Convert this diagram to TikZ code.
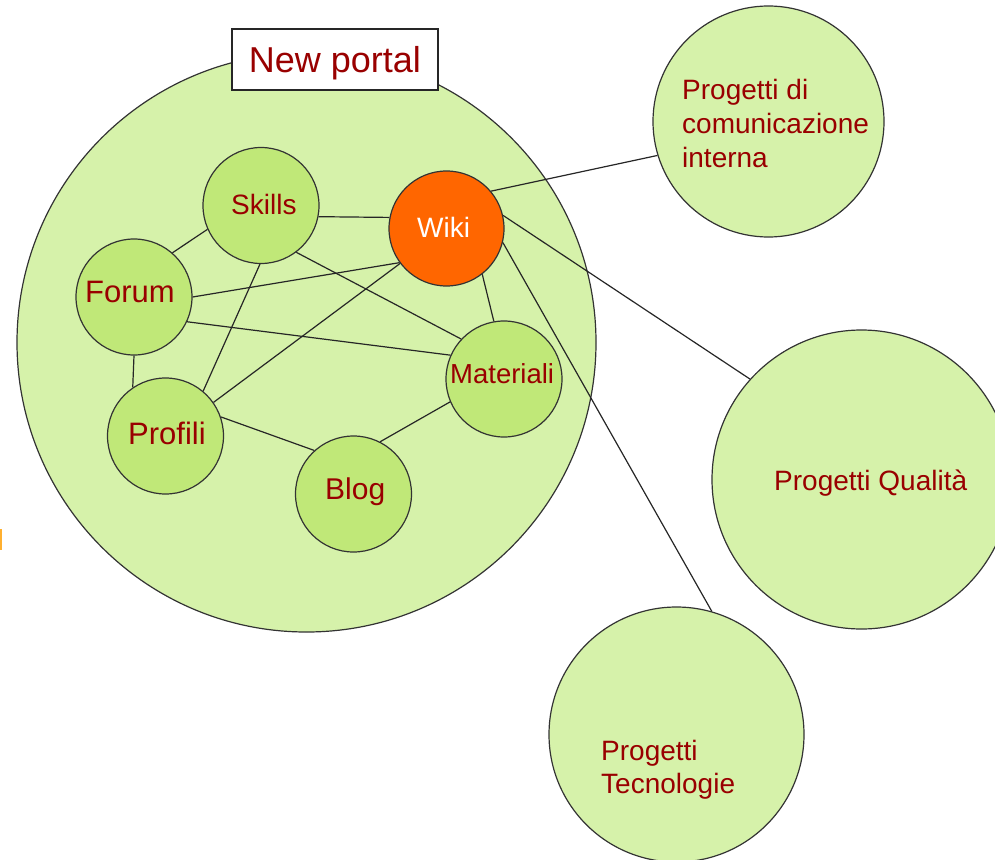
\documentclass[tikz,border=0pt]{standalone}
\usepackage{fontspec}
\setmainfont{Liberation Sans}
\definecolor{bigfill}{HTML}{D6F2AA}
\definecolor{smallfill}{HTML}{C0E878}
\definecolor{wikifill}{HTML}{FF6600}
\definecolor{txt}{HTML}{990000}
\definecolor{edge}{HTML}{333333}
\definecolor{frag}{HTML}{FFB030}
\begin{document}
\begin{tikzpicture}[x=1pt,y=-1pt,
  ring/.style={circle,draw=edge,line width=1.2pt,inner sep=0pt},
  big/.style={ring,fill=bigfill},
  small/.style={ring,fill=smallfill,minimum size=116pt},
  lbl/.style={anchor=base west,inner sep=0pt,text=txt},
  link/.style={draw=black!85,line width=1.2pt}]
\useasboundingbox (0,0) rectangle (995,859);
\clip (0,0) rectangle (995,859);
% containers
\node[big,minimum size=579pt] (portal) at (306.5,342.5) {};
\node[draw=black!85,fill=white,line width=1.2pt,minimum width=206pt,minimum height=61pt,
      inner sep=0pt,text=txt,font=\fontsize{36}{40}\selectfont,text height=25pt,text depth=0pt]
      (title) at (335,59.5) {New portal};
\node[big,minimum size=231pt] (com) at (768.5,121.5) {};
\node[big,minimum size=299pt] (qual) at (861.5,479.5) {};
\node[big,minimum size=255pt] (tec) at (676.5,734.5) {};
% inner circles
\node[small] (skills) at (261,205.5) {};
\node[ring,fill=wikifill,minimum size=115pt] (wiki) at (446.5,228.5) {};
\node[small] (forum) at (134,297) {};
\node[small] (materiali) at (504,379) {};
\node[small] (profili) at (165.5,436) {};
\node[small] (blog) at (353.5,494) {};
% connectors
\draw[link] (skills.-11) -- (wiki.169);
\draw[link] (skills.204) -- (forum.49);
\draw[link] (skills.269) -- (profili.50);
\draw[link] (skills.-53) -- (materiali.137);
\draw[link] (forum.0) -- (wiki.216);
\draw[link] (forum.-25) -- (materiali.156);
\draw[link] (forum.270) -- (profili.124);
\draw[link] (profili.35) -- (wiki.217);
\draw[link] (wiki.-52) -- (materiali.100);
\draw[link] (profili.19) -- (blog.132);
\draw[link] (blog.63) -- (materiali.203);
\draw[link] (wiki.40) -- (com.197);
\draw[link] (wiki.13) -- (qual.138);
\draw[link] (wiki.-14) -- (tec.74);
% labels
\node[lbl,font=\fontsize{28}{34}\selectfont] (tskills) at (231,214) {Skills};
\node[lbl,text=white,font=\fontsize{28}{34}\selectfont] (twiki) at (417,237) {Wiki};
\node[lbl,font=\fontsize{31}{36}\selectfont] (tforum) at (85,302) {Forum};
\node[lbl,font=\fontsize{27.5}{33}\selectfont] (tmateriali) at (450,383) {Materiali};
\node[lbl,font=\fontsize{31}{36}\selectfont] (tprofili) at (128,444) {Profili};
\node[lbl,font=\fontsize{30}{36}\selectfont] (tblog) at (325,499) {Blog};
\node[lbl,font=\fontsize{28}{34}\selectfont] (tcom) at (682,99)
  {\begin{tabular}[t]{@{}l@{}}Progetti di\\comunicazione\\interna\end{tabular}};
\node[lbl,font=\fontsize{28}{34}\selectfont] (tqual) at (774,490) {Progetti Qualità};
\node[lbl,font=\fontsize{28}{33}\selectfont] (ttec) at (601,760)
  {\begin{tabular}[t]{@{}l@{}}Progetti\\Tecnologie\end{tabular}};
% clipped fragment at the left edge
\fill[frag] (0,529) rectangle (2,550);
\end{tikzpicture}
\end{document}
